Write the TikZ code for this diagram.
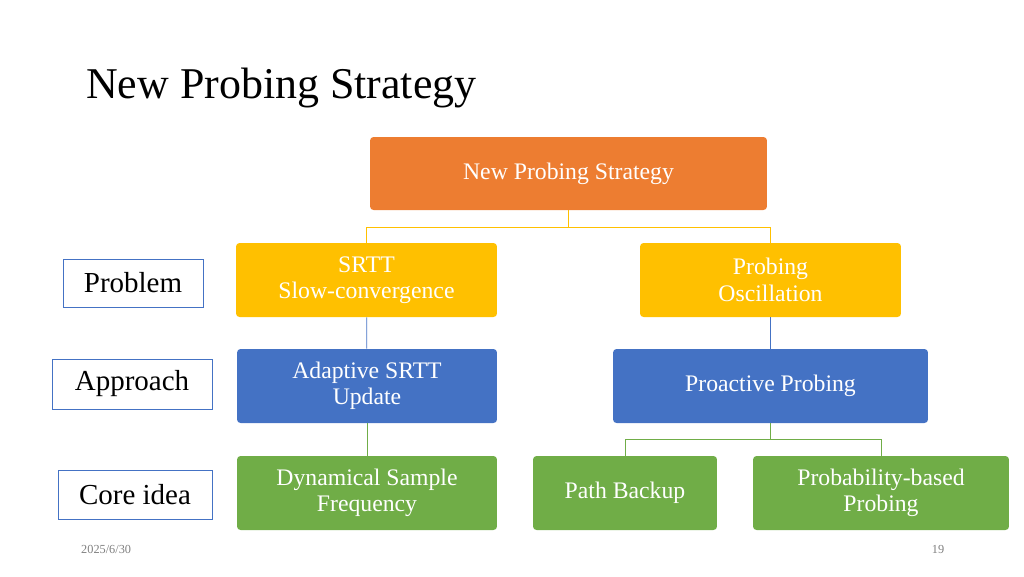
\documentclass[tikz,border=0pt]{standalone}
\usepackage{fontspec}
\setmainfont{Liberation Serif}
\definecolor{orangeC}{RGB}{237,125,49}
\definecolor{yellowC}{RGB}{255,192,0}
\definecolor{blueC}{RGB}{68,114,196}
\definecolor{greenC}{RGB}{112,173,71}
\tikzset{
  box/.style = {rounded corners=2pt, text=white, align=center, inner sep=0pt,
    font=\fontsize{13.5}{15}\selectfont},
  tag/.style = {draw=blueC, fill=white, inner sep=0pt, font=\fontsize{16.5}{18}\selectfont}
}
\begin{document}
\begin{tikzpicture}[x=0.02cm, y=-0.02cm]
	\useasboundingbox (0,0) rectangle (1024,576);
	\node (title) at (80,88) [anchor=west, font=\fontsize{25}{28}\selectfont] {New Probing Strategy};
	
	\node (top) at (568.5,173.5) [box, fill=orangeC, minimum width=7.94cm, minimum height=1.46cm] {New Probing Strategy};
	\node (srtt) at (366.5,280) [box, fill=yellowC, minimum width=5.22cm, minimum height=1.48cm] {SRTT\\Slow-convergence};
	\node (osc) at (770.5,280) [box, fill=yellowC, minimum width=5.22cm, minimum height=1.48cm] {Probing\\Oscillation};
	\node (adapt) at (367,386) [box, fill=blueC, minimum width=5.2cm, minimum height=1.48cm] {Adaptive SRTT\\Update};
	\node (proact) at (770.5,386) [box, fill=blueC, minimum width=6.3cm, minimum height=1.48cm] {Proactive Probing};
	\node (dyn) at (367,493) [box, fill=greenC, minimum width=5.2cm, minimum height=1.48cm] {Dynamical Sample\\Frequency};
	\node (backup) at (625,493) [box, fill=greenC, minimum width=3.68cm, minimum height=1.48cm] {Path Backup};
	\node (prob) at (881,493) [box, fill=greenC, minimum width=5.12cm, minimum height=1.48cm] {Probability-based\\Probing};
	
	\node (problem) at (133,283) [tag, minimum width=2.8cm, minimum height=0.96cm] {Problem};
	\node (approach) at (132,384) [tag, minimum width=3.2cm, minimum height=1cm] {Approach};
	\node (core) at (135,494.5) [tag, minimum width=3.08cm, minimum height=0.98cm] {Core idea};
	
	\draw [yellowC] (top.south) -- ++(0,17) -| (srtt.north);
	\draw [yellowC] (top.south) -- ++(0,17) -| (osc.north);
	\draw [blueC] (srtt) -- (adapt);
	\draw [blueC] (osc) -- (proact);
	\draw [greenC] (adapt) -- (dyn);
	\draw [greenC] (proact.south) -- ++(0,16) -| (backup.north);
	\draw [greenC] (proact.south) -- ++(0,16) -| (prob.north);
	
	\node (date) at (75,549) [anchor=west, text=gray, font=\fontsize{7}{8}\selectfont] {2025/6/30};
	\node (page) at (938,549) [text=gray, font=\fontsize{7}{8}\selectfont] {19};
\end{tikzpicture}
\end{document}
